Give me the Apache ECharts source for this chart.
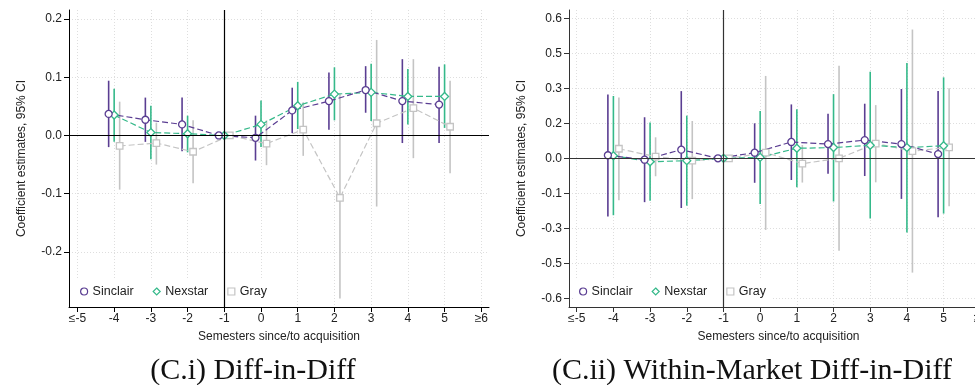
<!DOCTYPE html>
<html><head><meta charset="utf-8">
<script src="https://cdn.jsdelivr.net/npm/echarts@6/dist/echarts.min.js"></script>
<style>html,body{margin:0;padding:0;background:#fff}#c{width:975px;height:385px}</style>
</head><body><div id="c"></div>
<script>
// ---------- data ----------
const periods = [-4, -3, -2, -1, 0, 1, 2, 3, 4, 5];
const xTickValues = [-5, -4, -3, -2, -1, 0, 1, 2, 3, 4, 5, 6];
const xTickLabels = ['≤-5', '-4', '-3', '-2', '-1', '0', '1', '2', '3', '4', '5', '≥6'];
const seriesNames = ['Sinclair', 'Nexstar', 'Gray'];
const referencePeriod = -1;

// Panel (C.i) Diff-in-Diff
const ddYTicks = [-0.2, -0.1, 0, 0.1, 0.2];
const ddYLabels = ['-0.2', '-0.1', '0.0', '0.1', '0.2'];
const ddSinclair   = [0.037, 0.027, 0.019, 0, -0.004, 0.043, 0.059, 0.078, 0.059, 0.053];
const ddSinclairLo = [-0.020, -0.011, -0.027, null, -0.043, 0.004, 0.010, 0.039, -0.013, -0.013];
const ddSinclairHi = [0.094, 0.065, 0.065, null, 0.034, 0.082, 0.108, 0.119, 0.131, 0.118];
const ddNexstar    = [0.035, 0.005, 0.003, 0, 0.019, 0.051, 0.071, 0.074, 0.067, 0.067];
const ddNexstarLo  = [-0.011, -0.041, -0.029, null, -0.020, 0.011, 0.026, 0.025, 0.019, 0.013];
const ddNexstarHi  = [0.080, 0.051, 0.034, null, 0.060, 0.092, 0.117, 0.123, 0.114, 0.122];
const ddGray       = [-0.018, -0.013, -0.028, 0, -0.014, 0.010, -0.107, 0.021, 0.047, 0.015];
const ddGrayLo     = [-0.093, -0.050, -0.082, null, -0.051, -0.035, -0.280, -0.122, -0.039, -0.065];
const ddGrayHi     = [0.058, 0.022, 0.026, null, 0.026, 0.057, 0.072, 0.164, 0.131, 0.094];

// Panel (C.ii) Within-Market Diff-in-Diff
const wmYTicks = [-0.6, -0.45, -0.3, -0.15, 0, 0.15, 0.3, 0.45, 0.6];
const wmYLabels = ['-0.6', '-0.5', '-0.3', '-0.1', '0.0', '0.2', '0.3', '0.5', '0.6'];
const wmSinclair   = [0.013, -0.006, 0.037, 0, 0.024, 0.070, 0.061, 0.078, 0.061, 0.018];
const wmSinclairLo = [-0.250, -0.188, -0.213, null, -0.105, -0.093, -0.066, -0.076, -0.174, -0.253];
const wmSinclairHi = [0.274, 0.176, 0.288, null, 0.150, 0.231, 0.191, 0.234, 0.297, 0.288];
const wmNexstar    = [0.011, -0.015, -0.010, 0, 0.004, 0.043, 0.046, 0.056, 0.046, 0.054];
const wmNexstarLo  = [-0.244, -0.182, -0.203, null, -0.196, -0.124, -0.185, -0.258, -0.318, -0.237];
const wmNexstarHi  = [0.267, 0.153, 0.183, null, 0.203, 0.210, 0.275, 0.371, 0.408, 0.347];
const wmGray       = [0.041, 0.007, -0.010, 0, 0.024, -0.023, 0.000, 0.063, 0.031, 0.047];
const wmGrayLo     = [-0.180, -0.077, -0.175, null, -0.307, -0.104, -0.396, -0.103, -0.490, -0.205];
const wmGrayHi     = [0.261, 0.090, 0.160, null, 0.353, 0.057, 0.397, 0.228, 0.552, 0.300];

// ---------- styling ----------
const colors = { Sinclair: '#5a3d92', Nexstar: '#35b98a', Gray: '#c4c4c4' };
const symbols = { Sinclair: ['circle', 7], Nexstar: ['diamond', 8], Gray: ['rect', 6.5] };
const dodge = { Sinclair: -0.15, Nexstar: 0, Gray: 0.15 };
const FONT = 'Liberation Sans';

function labelFor(ticks, labels) {
  return v => { const i = ticks.findIndex(t => Math.abs(t - v) < 1e-9); return i >= 0 ? labels[i] : ''; };
}

function ciSeries(name, idx, lo, hi) {
  const color = colors[name];
  return {
    type: 'custom', name: name + ' CI', xAxisIndex: idx, yAxisIndex: idx, z: 2, silent: true,
    renderItem: (params, api) => {
      const p1 = api.coord([api.value(0), api.value(1)]);
      const p2 = api.coord([api.value(0), api.value(2)]);
      return { type: 'line', shape: { x1: p1[0], y1: p1[1], x2: p2[0], y2: p2[1] },
               style: { stroke: color, lineWidth: 1.6 } };
    },
    data: periods.map((p, i) => lo[i] == null ? null : [p + dodge[name], lo[i], hi[i]]).filter(Boolean)
  };
}

function pointSeries(name, idx, vals, withMarks, axisColor) {
  const color = colors[name];
  const s = {
    type: 'line', name, xAxisIndex: idx, yAxisIndex: idx, z: 3, silent: true,
    data: periods.map((p, i) => [p + dodge[name], vals[i]]),
    symbol: symbols[name][0], symbolSize: symbols[name][1], showAllSymbol: true,
    itemStyle: { color: '#fff', borderColor: color, borderWidth: 1.3 },
    lineStyle: { color, width: 1.2, type: [6, 3] },
    emphasis: { disabled: true }
  };
  if (withMarks) {
    s.markLine = {
      silent: true, symbol: 'none', label: { show: false }, animation: false,
      lineStyle: { color: axisColor, width: 1.2, type: 'solid' },
      data: [{ yAxis: 0 }, { xAxis: referencePeriod }]
    };
  }
  return s;
}

function makeXAxis(idx, min, max, axisColor) {
  return {
    type: 'value', gridIndex: idx, min, max,
    axisLine: { show: true, onZero: false, lineStyle: { color: axisColor, width: 1 } },
    axisTick: { show: true, length: 5, customValues: xTickValues, lineStyle: { color: axisColor } },
    axisLabel: { customValues: xTickValues, formatter: labelFor(xTickValues, xTickLabels),
                 margin: 6, fontFamily: FONT, fontSize: 12, color: '#222' },
    splitLine: { show: true, lineStyle: { color: '#dedede', type: [1, 2], width: 1 } },
    name: 'Semesters since/to acquisition', nameLocation: 'middle', nameGap: 24,
    nameTextStyle: { fontFamily: FONT, fontSize: 12, color: '#222' }
  };
}

function makeYAxis(idx, min, max, ticks, labels, axisColor) {
  return {
    type: 'value', gridIndex: idx, min, max,
    axisLine: { show: true, onZero: false, lineStyle: { color: axisColor, width: 1 } },
    axisTick: { show: true, length: 5, customValues: ticks, lineStyle: { color: axisColor } },
    axisLabel: { customValues: ticks, formatter: labelFor(ticks, labels),
                 margin: 7, fontFamily: FONT, fontSize: 12, color: '#222' },
    splitLine: { show: true, lineStyle: { color: '#dedede', type: [1, 2], width: 1 } }
  };
}

function makeLegend(left) {
  return {
    left, top: 280, orient: 'horizontal', selectedMode: false,
    itemWidth: 7, itemHeight: 7, itemGap: 19, padding: [5, 6, 8, 6],
    backgroundColor: '#fff',
    textStyle: { fontFamily: FONT, fontSize: 12.5, color: '#222' },
    data: seriesNames.map(n => ({
      name: n, icon: symbols[n][0],
      itemStyle: { color: '#fff', borderColor: colors[n], borderWidth: 1.2 }
    }))
  };
}

const option = {
  animation: false,
  backgroundColor: '#fff',
  grid: [
    { left: 69, top: 10, width: 420, height: 297, outerBoundsMode: 'none', containLabel: false },
    { left: 569, top: 10, width: 419, height: 297, outerBoundsMode: 'none', containLabel: false }
  ],
  xAxis: [makeXAxis(0, -5.23, 6.21, '#000'), makeXAxis(1, -5.21, 6.21, '#333')],
  yAxis: [
    makeYAxis(0, -0.2945, 0.2154, ddYTicks, ddYLabels, '#000'),
    makeYAxis(1, -0.6374, 0.6357, wmYTicks, wmYLabels, '#333')
  ],
  legend: [makeLegend(74), makeLegend(573)],
  series: [
    ciSeries('Gray', 0, ddGrayLo, ddGrayHi),
    ciSeries('Nexstar', 0, ddNexstarLo, ddNexstarHi),
    ciSeries('Sinclair', 0, ddSinclairLo, ddSinclairHi),
    pointSeries('Gray', 0, ddGray, true, '#000'),
    pointSeries('Nexstar', 0, ddNexstar),
    pointSeries('Sinclair', 0, ddSinclair),
    ciSeries('Gray', 1, wmGrayLo, wmGrayHi),
    ciSeries('Nexstar', 1, wmNexstarLo, wmNexstarHi),
    ciSeries('Sinclair', 1, wmSinclairLo, wmSinclairHi),
    pointSeries('Gray', 1, wmGray, true, '#333'),
    pointSeries('Nexstar', 1, wmNexstar),
    pointSeries('Sinclair', 1, wmSinclair)
  ],
  graphic: [
    { type: 'text', x: 22, y: 158.5, rotation: Math.PI / 2,
      style: { text: 'Coefficient estimates, 95% CI', fontFamily: FONT, fontSize: 12, fill: '#222', align: 'center', verticalAlign: 'middle' } },
    { type: 'text', x: 522, y: 158.5, rotation: Math.PI / 2,
      style: { text: 'Coefficient estimates, 95% CI', fontFamily: FONT, fontSize: 12, fill: '#222', align: 'center', verticalAlign: 'middle' } },
    { type: 'text', x: 253, y: 371,
      style: { text: '(C.i) Diff-in-Diff', fontFamily: 'Liberation Serif', fontSize: 30, fill: '#111', align: 'center', verticalAlign: 'middle' } },
    { type: 'text', x: 752, y: 371,
      style: { text: '(C.ii) Within-Market Diff-in-Diff', fontFamily: 'Liberation Serif', fontSize: 30, fill: '#111', align: 'center', verticalAlign: 'middle' } }
  ]
};

const chart = echarts.init(document.getElementById('c'), null, { renderer: 'canvas' });
chart.setOption(option);
</script>
</body></html>
